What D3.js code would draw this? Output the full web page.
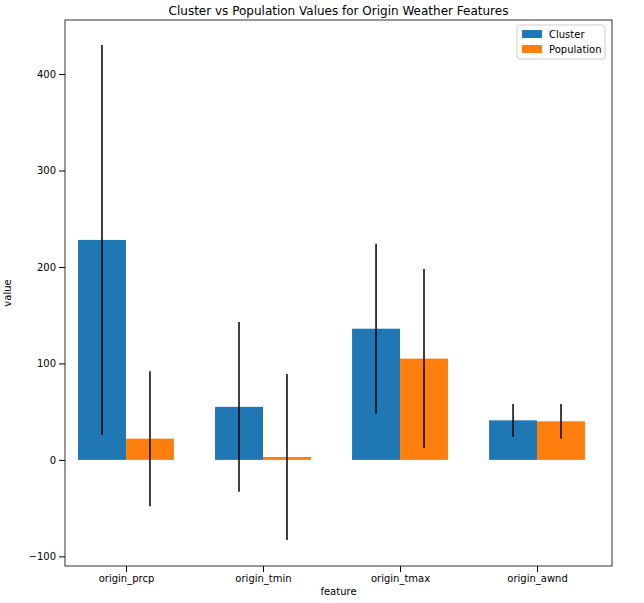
<!DOCTYPE html>
<html><head><meta charset="utf-8">
<script src="https://cdn.jsdelivr.net/npm/d3@7"></script>
<style>body{margin:0;background:#fff}text{font-family:"DejaVu Sans",sans-serif}</style>
</head><body>
<svg id="chart" width="644" height="603"></svg>
<script>
// data
var features = ["origin_prcp", "origin_tmin", "origin_tmax", "origin_awnd"];
var clusterMean = [228, 55, 136, 41];
var clusterStd = [202, 88, 88, 17];
var popMean = [22, 3, 105, 40];
var popStd = [70, 86, 93, 18];
var yTicks = [-100, 0, 100, 200, 300, 400];

var svg = d3.select("#chart");
var pLeft = 65, pRight = 612, pTop = 20, pBottom = 566;
var x = d3.scaleLinear().domain([-0.445, 3.547]).range([pLeft, pRight]);
var y = d3.scaleLinear().domain([-110, 456]).range([pBottom, pTop]);
var w = 0.35;

var series = [
  {name: "Cluster", mean: clusterMean, std: clusterStd, color: "#1f77b4", off: -w / 2},
  {name: "Population", mean: popMean, std: popStd, color: "#ff7f0e", off: w / 2}
];

series.forEach(function (s) {
  var g = svg.append("g");
  g.selectAll("rect").data(s.mean).enter().append("rect")
    .attr("x", function (d, i) { return x(i + s.off - w / 2); })
    .attr("width", x(w) - x(0))
    .attr("y", function (d) { return y(Math.max(d, 0)); })
    .attr("height", function (d) { return Math.abs(y(d) - y(0)); })
    .attr("fill", s.color);
  g.selectAll("line").data(s.mean).enter().append("line")
    .attr("x1", function (d, i) { return x(i + s.off); })
    .attr("x2", function (d, i) { return x(i + s.off); })
    .attr("y1", function (d, i) { return y(d - s.std[i]); })
    .attr("y2", function (d, i) { return y(d + s.std[i]); })
    .attr("stroke", "#000").attr("stroke-width", 1.5);
});

svg.append("g").attr("transform", "translate(0," + pBottom + ")")
  .call(d3.axisBottom(x).tickValues([0, 1, 2, 3]).tickFormat(function (d) { return features[d]; }).tickSizeOuter(0))
  .call(function (g) { g.select(".domain").remove(); g.selectAll("text").attr("font-size", 10).attr("fill", "#000"); });
svg.append("g").attr("transform", "translate(" + pLeft + ",0)")
  .call(d3.axisLeft(y).tickValues(yTicks).tickSizeOuter(0))
  .call(function (g) { g.select(".domain").remove(); g.selectAll("text").attr("font-size", 10).attr("fill", "#000"); });

svg.append("rect").attr("x", pLeft).attr("y", pTop).attr("width", pRight - pLeft).attr("height", pBottom - pTop)
  .attr("fill", "none").attr("stroke", "#000").attr("stroke-width", 0.8);

svg.append("text").attr("x", (pLeft + pRight) / 2).attr("y", 15).attr("text-anchor", "middle")
  .attr("font-size", 12).text("Cluster vs Population Values for Origin Weather Features");
svg.append("text").attr("x", (pLeft + pRight) / 2).attr("y", 595).attr("text-anchor", "middle")
  .attr("font-size", 10).text("feature");
svg.append("text").attr("transform", "translate(11," + ((pTop + pBottom) / 2) + ") rotate(-90)")
  .attr("text-anchor", "middle").attr("font-size", 10).text("value");

var lg = svg.append("g").attr("transform", "translate(517,25)");
lg.append("rect").attr("width", 88).attr("height", 34).attr("rx", 3).attr("fill", "#fff").attr("stroke", "#ccc");
series.forEach(function (s, i) {
  lg.append("rect").attr("x", 5).attr("y", 5 + i * 15).attr("width", 20).attr("height", 8).attr("fill", s.color);
  lg.append("text").attr("x", 32).attr("y", 13 + i * 15).attr("font-size", 10).text(s.name);
});
</script>
</body></html>
